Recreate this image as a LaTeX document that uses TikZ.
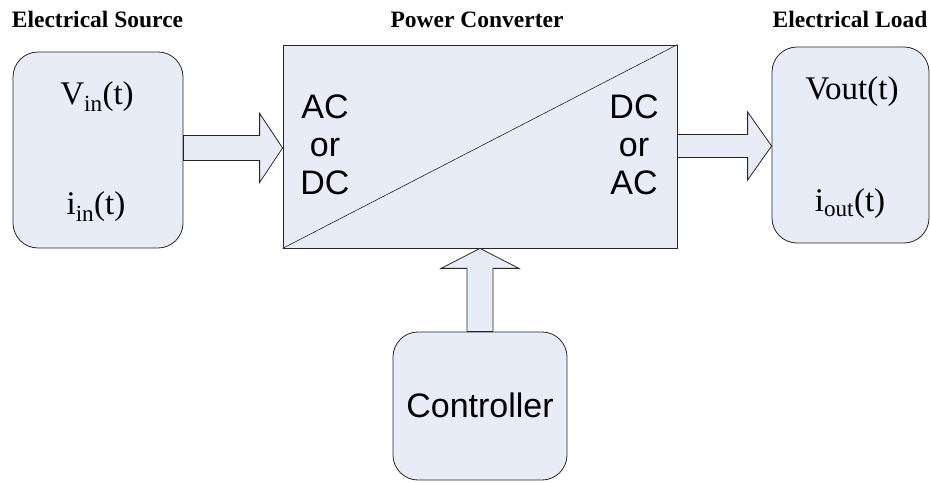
\documentclass[tikz,border=0pt]{standalone}
\usepackage{fontspec}
\setmainfont{Liberation Serif}
\setsansfont{Liberation Sans}
\usetikzlibrary{calc}
\definecolor{boxfill}{RGB}{231,236,247}
\tikzset{
  blockbox/.style={draw=black!85, fill=boxfill, line width=0.8pt, inner sep=0pt},
  blockarrow/.style={draw=black!85, fill=boxfill, line width=0.8pt, line join=miter},
  titletext/.style={font=\rmfamily\bfseries\fontsize{23.5}{28}\selectfont, anchor=base},
  sigtext/.style={font=\rmfamily\fontsize{33}{38}\selectfont, anchor=base},
  typetext/.style={font=\sffamily\fontsize{34}{38}\selectfont, anchor=base, align=center}
}
\begin{document}
\begin{tikzpicture}[x=1pt, y=1pt]
% picture frame
\useasboundingbox (0,0) rectangle (931,482);
\def\arrowshaft{12.5}
\def\arrowhead{34.5}
\def\arrowlen{23}
% Boxes
\node[blockbox, rounded corners=25pt, minimum width=170pt, minimum height=196pt] (src) at (98,332) {};
\node[blockbox, minimum width=394pt, minimum height=203pt] (conv) at (480,335.5) {};
\node[blockbox, rounded corners=25pt, minimum width=157pt, minimum height=196pt] (load) at (850.5,337) {};
\node[blockbox, rounded corners=25pt, minimum width=174pt, minimum height=148pt] (ctrl) at (480,76) {};
\draw[black!85, line width=0.6pt] (conv.south west) -- (conv.north east);
% Titles
\node[titletext] (srctitle) at (97.5,454) {Electrical Source};
\node[titletext] (convtitle) at (477,454) {Power Converter};
\node[titletext] (loadtitle) at (850,454) {Electrical Load};
% Signals
\node[sigtext] (vin) at (97,377) {V\textsubscript{in}(t)};
\node[sigtext] (iin) at (96,267) {i\textsubscript{in}(t)};
\node[sigtext] (vout) at (852,382) {Vout(t)};
\node[sigtext] (iout) at (850,270) {i\textsubscript{out}(t)};
% Converter sides (base = last line)
\node[typetext] (intype) at (325,287) {AC\\or\\DC};
\node[typetext] (outtype) at (634,287) {DC\\or\\AC};
\node[typetext] (ctrltext) at (480,65) {Controller};
% Block arrows
\draw[blockarrow] let \p1=(src.east), \p2=(conv.west) in
  (\x1,334+\arrowshaft) -- (\x2-\arrowlen,334+\arrowshaft) -- (\x2-\arrowlen,334+\arrowhead)
  -- (\x2,334) -- (\x2-\arrowlen,334-\arrowhead) -- (\x2-\arrowlen,334-\arrowshaft)
  -- (\x1,334-\arrowshaft) -- cycle;
\draw[blockarrow] let \p1=(conv.east), \p2=(load.west) in
  (\x1,336+11.5) -- (\x2-24,336+11.5) -- (\x2-24,336+34)
  -- (\x2,336) -- (\x2-24,336-34) -- (\x2-24,336-11.5)
  -- (\x1,336-11.5) -- cycle;
\draw[blockarrow] let \p1=(ctrl.north), \p2=(conv.south) in
  (\x1-13,\y1) -- (\x1-13,\y2-20) -- (\x1-39,\y2-20)
  -- (\x1,\y2) -- (\x1+39,\y2-20) -- (\x1+13,\y2-20)
  -- (\x1+13,\y1) -- cycle;
\end{tikzpicture}
\end{document}
